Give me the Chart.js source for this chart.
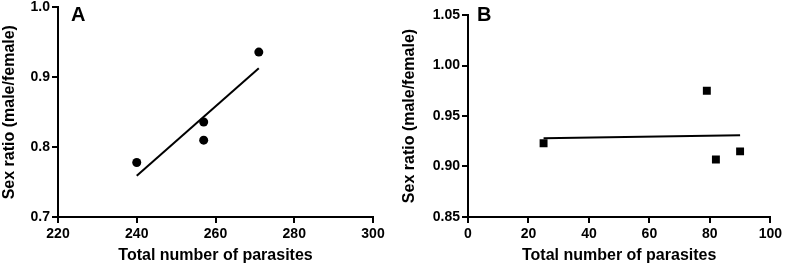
<!DOCTYPE html>
<html>
<head>
<meta charset="utf-8">
<script src="https://cdn.jsdelivr.net/npm/chart.js@4"></script>
<style>
    body { margin: 0; background: #fff; overflow: hidden; }
    #painelA { position: absolute; left: 0; top: -3px; width: 395px; height: 268px; }
    #painelB { position: absolute; left: 400px; top: 0; width: 385px; height: 265px; }
</style>
</head>
<body>
<div id="painelA"><canvas id="graficoA"></canvas></div>
<div id="painelB"><canvas id="graficoB"></canvas></div>
<script>
//===============================================================
// ========================== DADOS =============================
//===============================================================
const parasitasA = [240, 257, 257, 271];
const razaoA = [0.778, 0.836, 0.810, 0.936];
const retaA_x = [240, 271];
const retaA_y = [0.759, 0.913];

const parasitasB = [25, 79, 82, 90];
const razaoB = [0.923, 0.975, 0.907, 0.915];
const retaB_x = [25, 90];
const retaB_y = [0.928, 0.931];

const ticksXA = [220, 240, 260, 280, 300];
const ticksYA = [0.7, 0.8, 0.9, 1.0];
const ticksXB = [0, 20, 40, 60, 80, 100];
const ticksYB = [0.85, 0.90, 0.95, 1.00, 1.05];

const tituloX = "Total number of parasites";
const tituloY = "Sex ratio (male/female)";

//===============================================================
// ========================= FUNÇÕES ============================
//===============================================================
Chart.defaults.font.family = "'Liberation Sans', Arial, sans-serif";
Chart.defaults.font.weight = "bold";
Chart.defaults.color = "#000";

function pontos(xs, ys) {
    return xs.map((x, i) => ({ x: x, y: ys[i] }));
}

const letraPainel = {
    id: "letraPainel",
    afterDraw(chart, args, opts) {
        const ctx = chart.ctx;
        ctx.save();
        ctx.font = "bold 20px 'Liberation Sans', Arial, sans-serif";
        ctx.fillStyle = "#000";
        ctx.textBaseline = "middle";
        ctx.fillText(opts.texto, chart.chartArea.left + opts.dx, opts.y);
        ctx.restore();
    }
};

function eixo(ticks, casas, larguraFixa, alturaFixa, titulo, eixoY) {
    return {
        type: "linear",
        min: ticks[0],
        max: ticks[ticks.length - 1],
        afterBuildTicks: scale => {
            scale.ticks = ticks.map(v => ({ value: v }));
        },
        afterFit: scale => {
            if (eixoY) scale.width = larguraFixa;
            else scale.height = alturaFixa;
        },
        border: { display: true, color: "#000", width: 2 },
        grid: {
            drawOnChartArea: false,
            drawTicks: true,
            tickLength: 6,
            color: "#000",
            lineWidth: 2
        },
        ticks: {
            padding: eixoY ? 2 : 3,
            font: { size: 14, weight: "bold" },
            color: "#000",
            maxRotation: 0,
            callback: v => Number(v).toFixed(casas)
        },
        title: {
            display: true,
            text: titulo,
            color: "#000",
            font: { size: 16, weight: "bold" },
            padding: eixoY ? { top: 0, bottom: 3 } : { top: 2, bottom: 0 }
        }
    };
}

function montarGrafico(idCanvas, xs, ys, rx, ry, estilo, raio, tX, tY, casasX, casasY, larguraY, padding, letra) {
    new Chart(document.getElementById(idCanvas), {
        type: "scatter",
        data: {
            datasets: [
                {
                    data: pontos(xs, ys),
                    pointStyle: estilo,
                    pointRadius: raio,
                    pointBackgroundColor: "#000",
                    pointBorderColor: "#000",
                    pointBorderWidth: 0,
                    showLine: false
                },
                {
                    data: pontos(rx, ry),
                    showLine: true,
                    borderColor: "#000",
                    borderWidth: 2,
                    pointRadius: 0
                }
            ]
        },
        options: {
            responsive: true,
            maintainAspectRatio: false,
            animation: false,
            layout: { padding: padding },
            scales: {
                x: eixo(tX, casasX, 0, 48, tituloX, false),
                y: eixo(tY, casasY, larguraY, 0, tituloY, true)
            },
            plugins: {
                legend: { display: false },
                tooltip: { enabled: false },
                letraPainel: letra
            }
        },
        plugins: [letraPainel]
    });
}

//===============================================================
// ========================= GRÁFICOS ===========================
//===============================================================
montarGrafico("graficoA", parasitasA, razaoA, retaA_x, retaA_y, "circle", 4.5,
    ticksXA, ticksYA, 0, 1, 58, { top: 9, right: 22, left: 0, bottom: 0 },
    { texto: "A", dx: 13, y: 18 });

montarGrafico("graficoB", parasitasB, razaoB, retaB_x, retaB_y, "rect", 5.6,
    ticksXB, ticksYB, 0, 2, 68, { top: 15, right: 7, left: 0, bottom: 0 },
    { texto: "B", dx: 9, y: 15 });
</script>
</body>
</html>
